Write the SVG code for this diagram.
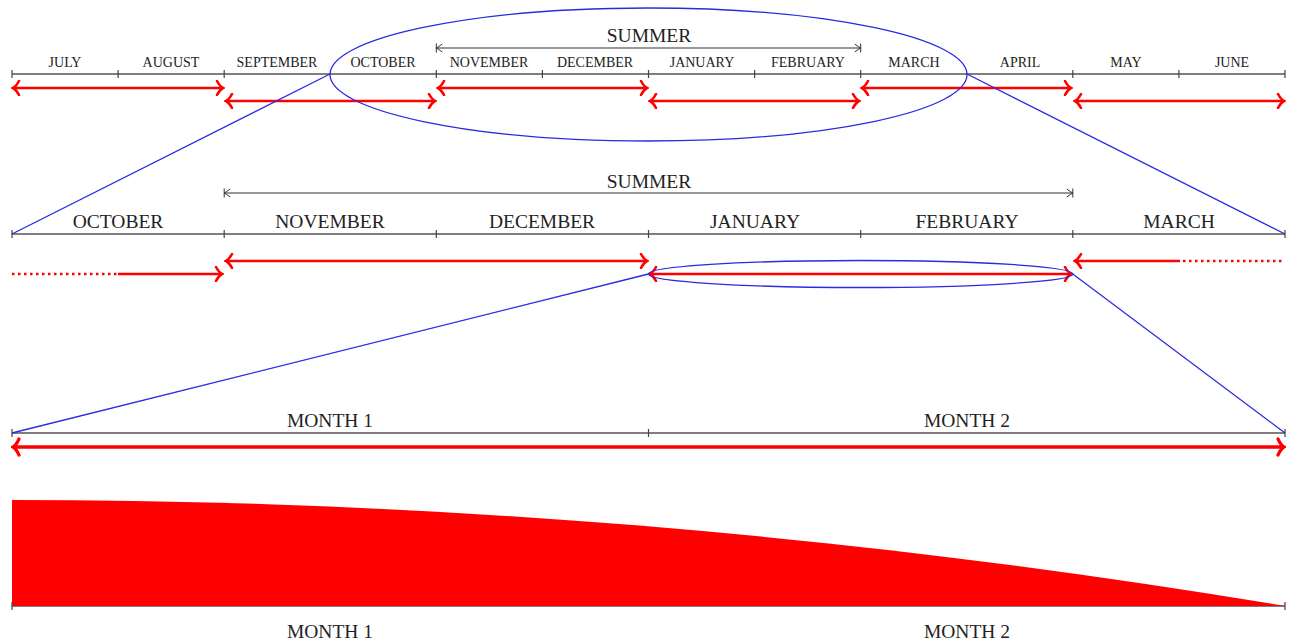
<svg xmlns="http://www.w3.org/2000/svg" width="1302" height="642" viewBox="0 0 1302 642">
<style>
.axis{stroke:#555;stroke-width:1.3;fill:none}
.tick{stroke:#444;stroke-width:1.2}
.red{stroke:#ff0000;stroke-width:2.6;fill:none}
.red2{stroke:#ff0000;stroke-width:3.4;fill:none}
.dot{stroke:#ff0000;stroke-width:2.6;fill:none;stroke-dasharray:2.5 3.5}
.blue{stroke:#2a2ae0;stroke-width:1.3;fill:none}
.brk{stroke:#333;stroke-width:1;fill:none}
text{font-family:"Liberation Serif","DejaVu Serif",serif;fill:#222;text-anchor:middle}
.s{font-size:14px}
.m{font-size:19.5px}
</style>
<defs>
<marker id="ra" markerUnits="userSpaceOnUse" viewBox="-10 -8 12 16" refX="0" refY="0" markerWidth="12" markerHeight="16" orient="auto-start-reverse">
<path d="M-6,-7 Q-3,-1.5 0,0 Q-3,1.5 -6,7" fill="none" stroke="#ff0000" stroke-width="2.6" stroke-linecap="round"/>
</marker>
<marker id="ra2" markerUnits="userSpaceOnUse" viewBox="-10 -10 12 20" refX="0" refY="0" markerWidth="12" markerHeight="20" orient="auto-start-reverse">
<path d="M-6,-8 Q-3,-1.5 0,0 Q-3,1.5 -6,8" fill="none" stroke="#ff0000" stroke-width="3.2" stroke-linecap="round"/>
</marker>
<marker id="ba" markerUnits="userSpaceOnUse" viewBox="-8 -6 10 12" refX="0" refY="0" markerWidth="10" markerHeight="12" orient="auto-start-reverse">
<path d="M-6,-4 Q-2,-1 0,0 Q-2,1 -6,4 M0,-4.5 V4.5" fill="none" stroke="#333" stroke-width="1"/>
</marker>
</defs>

<g id="row1">
<line class="axis" x1="12" y1="74" x2="1285" y2="74"/>
<g class="tick">
<line x1="12" y1="70" x2="12" y2="78"/><line x1="118.1" y1="70" x2="118.1" y2="78"/><line x1="224.2" y1="70" x2="224.2" y2="78"/>
<line x1="436.3" y1="70" x2="436.3" y2="78"/><line x1="542.4" y1="70" x2="542.4" y2="78"/><line x1="648.5" y1="70" x2="648.5" y2="78"/>
<line x1="754.6" y1="70" x2="754.6" y2="78"/><line x1="860.7" y1="70" x2="860.7" y2="78"/><line x1="1072.8" y1="70" x2="1072.8" y2="78"/>
<line x1="1178.9" y1="70" x2="1178.9" y2="78"/><line x1="1285" y1="70" x2="1285" y2="78"/>
</g>
<text class="s" x="65" y="67">JULY</text>
<text class="s" x="171" y="67">AUGUST</text>
<text class="s" x="277" y="67">SEPTEMBER</text>
<text class="s" x="383" y="67">OCTOBER</text>
<text class="s" x="489" y="67">NOVEMBER</text>
<text class="s" x="595" y="67">DECEMBER</text>
<text class="s" x="702" y="67">JANUARY</text>
<text class="s" x="808" y="67">FEBRUARY</text>
<text class="s" x="914" y="67">MARCH</text>
<text class="s" x="1020" y="67">APRIL</text>
<text class="s" x="1126" y="67">MAY</text>
<text class="s" x="1232" y="67">JUNE</text>
<text class="m" x="649" y="42">SUMMER</text>
</g>

<g id="row2">
<line class="axis" x1="12" y1="234" x2="1285" y2="234"/>
<g class="tick">
<line x1="12" y1="230" x2="12" y2="238"/><line x1="224.2" y1="230" x2="224.2" y2="238"/><line x1="436.3" y1="230" x2="436.3" y2="238"/>
<line x1="648.5" y1="230" x2="648.5" y2="238"/><line x1="860.7" y1="230" x2="860.7" y2="238"/><line x1="1072.8" y1="230" x2="1072.8" y2="238"/><line x1="1285" y1="230" x2="1285" y2="238"/>
</g>
<text class="m" x="118" y="228">OCTOBER</text>
<text class="m" x="330" y="228">NOVEMBER</text>
<text class="m" x="542" y="228">DECEMBER</text>
<text class="m" x="755" y="228">JANUARY</text>
<text class="m" x="967" y="228">FEBRUARY</text>
<text class="m" x="1179" y="228">MARCH</text>
<text class="m" x="649" y="188">SUMMER</text>
</g>

<g id="row3">
<line class="axis" x1="12" y1="433" x2="1285" y2="433"/>
<g class="tick">
<line x1="12" y1="429" x2="12" y2="437"/><line x1="648.5" y1="429" x2="648.5" y2="437"/><line x1="1285" y1="429" x2="1285" y2="437"/>
</g>
<text class="m" x="330" y="427">MONTH 1</text>
<text class="m" x="967" y="427">MONTH 2</text>
</g>

<g id="row4">
<line class="axis" x1="12" y1="606" x2="1285" y2="606"/>
<path d="M12,500 C436,500 861,535 1285,606 L12,606 Z" fill="#ff0000"/>
<g class="tick">
<line x1="12" y1="602" x2="12" y2="610"/><line x1="1285" y1="602" x2="1285" y2="610"/>
</g>
<text class="m" x="330" y="638">MONTH 1</text>
<text class="m" x="967" y="638">MONTH 2</text>
</g>

<g id="connectors">
<line class="brk" x1="436.3" y1="48" x2="860.7" y2="48" marker-start="url(#ba)" marker-end="url(#ba)"/>
<line class="brk" x1="224.2" y1="193" x2="1072.8" y2="193" marker-start="url(#ba)" marker-end="url(#ba)"/>

<line class="red" x1="13" y1="88" x2="223" y2="88" marker-start="url(#ra)" marker-end="url(#ra)"/>
<line class="red" x1="226" y1="101" x2="435" y2="101" marker-start="url(#ra)" marker-end="url(#ra)"/>
<line class="red" x1="438" y1="88" x2="647" y2="88" marker-start="url(#ra)" marker-end="url(#ra)"/>
<line class="red" x1="650" y1="101" x2="859" y2="101" marker-start="url(#ra)" marker-end="url(#ra)"/>
<line class="red" x1="862" y1="88" x2="1071" y2="88" marker-start="url(#ra)" marker-end="url(#ra)"/>
<line class="red" x1="1075" y1="101" x2="1284" y2="101" marker-start="url(#ra)" marker-end="url(#ra)"/>

<line class="dot" x1="12" y1="274" x2="118" y2="274"/>
<line class="red" x1="118" y1="274" x2="222" y2="274" marker-end="url(#ra)"/>
<line class="red" x1="226" y1="261" x2="647" y2="261" marker-start="url(#ra)" marker-end="url(#ra)"/>
<line class="red" x1="650" y1="274" x2="1071" y2="274" marker-start="url(#ra)" marker-end="url(#ra)"/>
<line class="red" x1="1075" y1="261" x2="1180" y2="261" marker-start="url(#ra)"/>
<line class="dot" x1="1183" y1="261" x2="1285" y2="261"/>

<line class="red2" x1="13" y1="447" x2="1284" y2="447" marker-start="url(#ra2)" marker-end="url(#ra2)"/>

<ellipse class="blue" cx="648.5" cy="74.5" rx="318.5" ry="66.5"/>
<line class="blue" x1="330" y1="74" x2="12" y2="234"/>
<line class="blue" x1="967" y1="74" x2="1285" y2="234"/>
<ellipse class="blue" cx="860.7" cy="274" rx="212.2" ry="13.5"/>
<line class="blue" x1="648.5" y1="274" x2="12" y2="433"/>
<line class="blue" x1="1072.8" y1="274" x2="1285" y2="433"/>
</g>
</svg>
